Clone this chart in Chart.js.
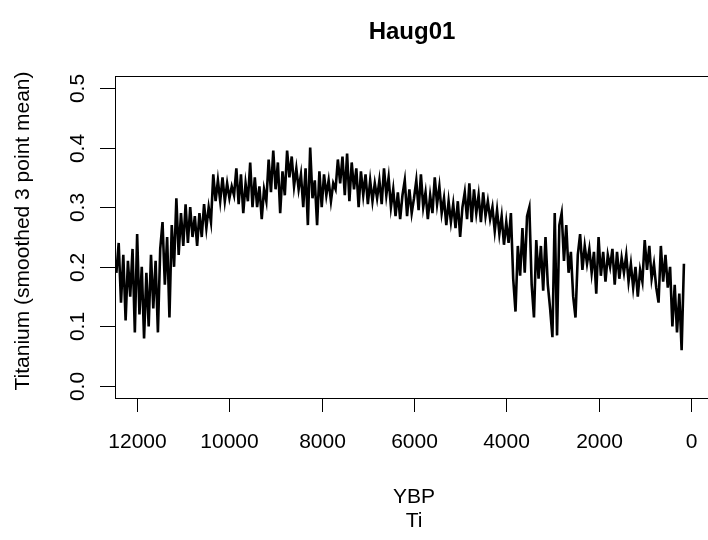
<!DOCTYPE html>
<html>
<head>
<meta charset="utf-8">
<script src="https://cdn.jsdelivr.net/npm/chart.js@4/dist/chart.umd.min.js"></script>
<style>
  html, body { margin: 0; padding: 0; background: #fff; overflow: hidden; }
  canvas { display: block; }
</style>
</head>
<body>
<canvas id="chart" width="720" height="540"></canvas>
<script>
// years before present
const ybp = [
  12450, 12400, 12350, 12300, 12250, 12200, 12150, 12100, 12050, 12000,
  11950, 11900, 11850, 11800, 11750, 11700, 11650, 11600, 11550, 11500,
  11450, 11400, 11350, 11300, 11250, 11200, 11150, 11100, 11050, 11000,
  10950, 10900, 10850, 10800, 10750, 10700, 10650, 10600, 10550, 10500,
  10450, 10400, 10350, 10300, 10250, 10200, 10150, 10100, 10050, 10000,
  9950, 9900, 9850, 9800, 9750, 9700, 9650, 9600, 9550, 9500,
  9450, 9400, 9350, 9300, 9250, 9200, 9150, 9100, 9050, 9000,
  8950, 8900, 8850, 8800, 8750, 8700, 8650, 8600, 8550, 8500,
  8450, 8400, 8350, 8300, 8250, 8200, 8150, 8100, 8050, 8000,
  7950, 7900, 7850, 7800, 7750, 7700, 7650, 7600, 7550, 7500,
  7450, 7400, 7350, 7300, 7250, 7200, 7150, 7100, 7050, 7000,
  6950, 6900, 6850, 6800, 6750, 6700, 6650, 6600, 6550, 6500,
  6450, 6400, 6350, 6300, 6250, 6200, 6150, 6100, 6050, 6000,
  5950, 5900, 5850, 5800, 5750, 5700, 5650, 5600, 5550, 5500,
  5450, 5400, 5350, 5300, 5250, 5200, 5150, 5100, 5050, 5000,
  4950, 4900, 4850, 4800, 4750, 4700, 4650, 4600, 4550, 4500,
  4450, 4400, 4350, 4300, 4250, 4200, 4150, 4100, 4050, 4000,
  3950, 3900, 3850, 3800, 3750, 3700, 3650, 3600, 3550, 3500,
  3450, 3400, 3350, 3300, 3250, 3200, 3150, 3100, 3050, 3000,
  2950, 2900, 2850, 2800, 2750, 2700, 2650, 2600, 2550, 2500,
  2450, 2400, 2350, 2300, 2250, 2200, 2150, 2100, 2050, 2000,
  1950, 1900, 1850, 1800, 1750, 1700, 1650, 1600, 1550, 1500,
  1450, 1400, 1350, 1300, 1250, 1200, 1150, 1100, 1050, 1000,
  950, 900, 850, 800, 750, 700, 650, 600, 550, 500,
  450, 400, 350, 300, 250, 200, 150
];

// titanium, smoothed 3 point mean
const ti = [
  0.19, 0.24, 0.14, 0.22, 0.11, 0.21, 0.15, 0.23, 0.09, 0.255,
  0.12, 0.20, 0.08, 0.19, 0.10, 0.22, 0.13, 0.21, 0.09, 0.23,
  0.275, 0.17, 0.25, 0.115, 0.27, 0.20, 0.315, 0.22, 0.29, 0.235,
  0.305, 0.24, 0.30, 0.25, 0.285, 0.235, 0.29, 0.25, 0.305, 0.265,
  0.30, 0.275, 0.355, 0.31, 0.345, 0.31, 0.35, 0.31, 0.34, 0.315,
  0.335, 0.32, 0.365, 0.305, 0.355, 0.29, 0.34, 0.31, 0.375, 0.30,
  0.35, 0.30, 0.335, 0.28, 0.33, 0.31, 0.38, 0.325, 0.395, 0.33,
  0.375, 0.29, 0.36, 0.32, 0.395, 0.35, 0.385, 0.335, 0.365, 0.33,
  0.355, 0.30, 0.365, 0.27, 0.40, 0.315, 0.345, 0.27, 0.36, 0.30,
  0.355, 0.32, 0.345, 0.31, 0.34, 0.33, 0.38, 0.34, 0.385, 0.32,
  0.39, 0.31, 0.375, 0.33, 0.365, 0.30, 0.36, 0.32, 0.355, 0.305,
  0.345, 0.31, 0.34, 0.315, 0.345, 0.305, 0.365, 0.32, 0.35, 0.30,
  0.33, 0.285, 0.325, 0.28, 0.32, 0.345, 0.285, 0.33, 0.29, 0.315,
  0.345, 0.295, 0.355, 0.30, 0.325, 0.28, 0.32, 0.29, 0.35, 0.305,
  0.335, 0.29, 0.315, 0.27, 0.31, 0.275, 0.305, 0.265, 0.31, 0.25,
  0.30, 0.325, 0.28, 0.34, 0.275, 0.33, 0.29, 0.32, 0.275, 0.325,
  0.285, 0.31, 0.28, 0.30, 0.26, 0.295, 0.255, 0.285, 0.237, 0.275,
  0.24, 0.29, 0.18, 0.125, 0.235, 0.185, 0.265, 0.19, 0.285, 0.30,
  0.17, 0.115, 0.245, 0.18, 0.235, 0.16, 0.25, 0.17, 0.13, 0.082,
  0.29, 0.085, 0.27, 0.29, 0.21, 0.27, 0.19, 0.225, 0.15, 0.115,
  0.22, 0.255, 0.195, 0.235, 0.205, 0.23, 0.19, 0.225, 0.155, 0.25,
  0.185, 0.225, 0.175, 0.22, 0.20, 0.23, 0.17, 0.225, 0.18, 0.215,
  0.19, 0.22, 0.175, 0.205, 0.165, 0.20, 0.15, 0.195, 0.175, 0.245,
  0.195, 0.235, 0.18, 0.205, 0.165, 0.14, 0.235, 0.175, 0.22, 0.165,
  0.20, 0.10, 0.17, 0.09, 0.155, 0.06, 0.205
];

const xTicks = [12000, 10000, 8000, 6000, 4000, 2000, 0];
const yTicks = [0, 0.1, 0.2, 0.3, 0.4, 0.5];
const yTickLabels = ['0.0', '0.1', '0.2', '0.3', '0.4', '0.5'];

const FONT = '"Liberation Sans", Arial, sans-serif';

// R style box, ticks and labels drawn on top of the chart
const rAxes = {
  id: 'rAxes',
  afterDraw(chart) {
    const ctx = chart.ctx;
    const a = chart.chartArea;
    const xs = chart.scales.x;
    const ys = chart.scales.y;
    ctx.save();
    ctx.strokeStyle = '#000';
    ctx.fillStyle = '#000';
    ctx.lineWidth = 1;
    ctx.strokeRect(Math.round(a.left) + 0.5, Math.round(a.top) + 0.5,
      Math.round(a.right - a.left), Math.round(a.bottom - a.top));

    ctx.font = '21px ' + FONT;
    ctx.textAlign = 'center';
    ctx.textBaseline = 'middle';
    xTicks.forEach(v => {
      const px = Math.round(xs.getPixelForValue(v)) + 0.5;
      ctx.beginPath();
      ctx.moveTo(px, a.bottom);
      ctx.lineTo(px, a.bottom + 14);
      ctx.stroke();
      ctx.fillText(String(v), px, 442);
    });

    yTicks.forEach((v, i) => {
      const py = Math.round(ys.getPixelForValue(v)) + 0.5;
      ctx.beginPath();
      ctx.moveTo(a.left - 15, py);
      ctx.lineTo(a.left, py);
      ctx.stroke();
      ctx.save();
      ctx.translate(78, py);
      ctx.rotate(-Math.PI / 2);
      ctx.fillText(yTickLabels[i], 0, 0);
      ctx.restore();
    });

    ctx.fillText('YBP', 414, 497);
    ctx.fillText('Ti', 414, 521);

    ctx.save();
    ctx.translate(23, (a.top + a.bottom) / 2 - 6);
    ctx.rotate(-Math.PI / 2);
    ctx.fillText('Titanium (smoothed 3 point mean)', 0, 0);
    ctx.restore();

    ctx.font = 'bold 24px ' + FONT;
    ctx.fillText('Haug01', 412, 32);
    ctx.restore();
  }
};

new Chart(document.getElementById('chart'), {
  type: 'line',
  data: {
    datasets: [{
      data: ybp.map((x, i) => ({ x: x, y: ti[i] })),
      borderColor: '#000',
      borderWidth: 2.6,
      pointRadius: 0,
      tension: 0,
      fill: false
    }]
  },
  options: {
    responsive: false,
    animation: false,
    layout: { padding: { left: 115, right: 7, top: 76, bottom: 142 } },
    plugins: { legend: { display: false }, tooltip: { enabled: false } },
    scales: {
      x: { type: 'linear', reverse: true, min: -480, max: 12480, display: false },
      y: { type: 'linear', min: -0.02, max: 0.52, display: false }
    }
  },
  plugins: [rAxes]
});
</script>
</body>
</html>
